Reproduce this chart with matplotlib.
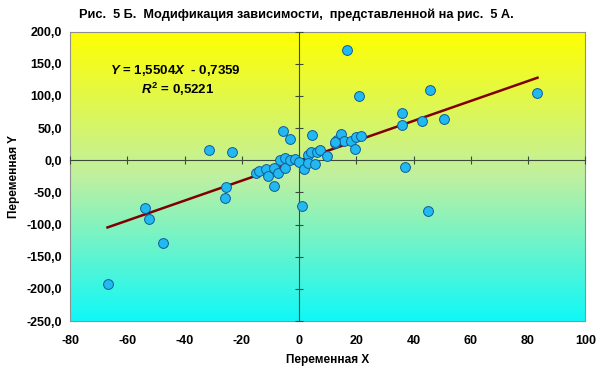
import numpy as np
import matplotlib
matplotlib.use("Agg")
import matplotlib.pyplot as plt
from matplotlib.colors import LinearSegmentedColormap

plt.rcParams['font.family'] = ['Liberation Sans', 'DejaVu Sans']
plt.rcParams['mathtext.fontset'] = 'custom'
plt.rcParams['mathtext.it'] = 'Liberation Sans:italic:bold'
plt.rcParams['mathtext.bf'] = 'Liberation Sans:bold'
plt.rcParams['mathtext.rm'] = 'Liberation Sans:bold'

title = "Рис.  5 Б.  Модификация зависимости,  представленной на рис.  5 А."
xlabel = "Переменная X"
ylabel = "Переменная Y"

x_vals = [-66.9, -53.8, -52.5, -47.6, -31.6, -23.3, -25.6, -25.9,
          16.8, 21.0, 45.7, 83.3, 35.8, 36.0, 43.0, 50.6, 37.0, 45.2, 0.9,
          -15.0, -13.9, -11.7, -10.9, -8.6, -8.6, -7.4, -6.5, -5.0, -5.0,
          -5.5, -3.2, -3.0, -1.3, -0.1, 1.6, 3.0, 3.0, 4.3, 4.6, 5.7, 6.3,
          7.5, 9.6, 12.5, 13.3, 14.8, 15.6, 18.0, 19.7, 20.0, 21.5, 12.7]
y_vals = [-192.4, -73.7, -90.8, -128.6, 16.5, 12.4, -42.0, -58.6,
          172.0, 100.5, 109.3, 104.2, 73.0, 54.4, 61.6, 63.7, -10.4, -79.4, -70.6,
          -19.3, -16.0, -14.0, -24.4, -12.5, -39.5, -19.3, 0.5, 4.0, -11.5,
          46.0, 32.7, 0.5, 1.5, -2.0, -13.5, 8.0, -3.7, 13.4, 38.9, -5.8, 13.4,
          16.0, 7.2, 27.4, 31.6, 40.4, 30.5, 30.5, 17.0, 35.8, 38.3, 28.5]

slope = 1.5504
intercept = -0.7359
r2 = 0.5221

x_ticks = [-80, -60, -40, -20, 0, 20, 40, 60, 80, 100]
y_ticks = [-250, -200, -150, -100, -50, 0, 50, 100, 150, 200]

fig = plt.figure(figsize=(6.0, 3.73), dpi=100)
rect = [70/600, 1-321/373, (585.3-70)/600, (321-31.7)/373]
ax = fig.add_axes(rect)
ax.set_xlim(-80, 100)
ax.set_ylim(-250, 200)

cmap = LinearSegmentedColormap.from_list("bg", [(0.0, "#10F8F8"), (0.5, "#C0F0A0"), (1.0, "#FFFF00")])
grad = np.linspace(0, 1, 256).reshape(-1, 1)
ax.imshow(grad, aspect='auto', cmap=cmap, origin='lower',
          extent=[-80, 100, -250, 200], zorder=0)

for s in ax.spines.values():
    s.set_color('#909090')
    s.set_linewidth(0.8)
ax.set_xticks(x_ticks)
ax.set_yticks(y_ticks)
ax.set_xticklabels([f"{v}" for v in x_ticks], fontsize=9, fontweight='bold')
ax.set_yticklabels([f"{v:.1f}".replace('.', ',') for v in y_ticks], fontsize=9, fontweight='bold')
ax.tick_params(axis='y', length=0, pad=6)
ax.tick_params(axis='x', length=0, pad=10)
ax.set_xlabel(xlabel, fontsize=8.5, fontweight='bold', labelpad=5)
ax.set_ylabel(ylabel, fontsize=8.5, fontweight='bold', labelpad=4)

# zero-crossing axes with tick marks
ax2 = fig.add_axes(rect, sharex=ax, sharey=ax)
ax2.patch.set_visible(False)
ax2.spines['left'].set_position(('data', 0))
ax2.spines['bottom'].set_position(('data', 0))
ax2.spines['right'].set_visible(False)
ax2.spines['top'].set_visible(False)
for k in ['left', 'bottom']:
    ax2.spines[k].set_color('#3C4A3C')
    ax2.spines[k].set_linewidth(0.8)
ax2.tick_params(direction='inout', length=6, width=0.8, color='#3C4A3C',
                labelleft=False, labelbottom=False)

xs = np.array([min(x_vals), max(x_vals)])
ax2.plot(xs, slope*xs + intercept, color='#800000', lw=1.8, zorder=3)
ax2.scatter(x_vals, y_vals, s=50, facecolor='#22B8F0', edgecolor='#105C9C',
            linewidth=0.7, zorder=4)

ax2.text(-43.3, 140, r"$\mathit{Y}$ = 1,5504$\mathit{X}$  - 0,7359",
         fontsize=9.5, fontweight='bold', ha='center', va='center')
ax2.text(-42.5, 111, r"$\mathit{R}^{\mathbf{2}}$ = 0,5221",
         fontsize=9.5, fontweight='bold', ha='center', va='center')

fig.text(296/600, 1-15/373, title, fontsize=9.2, fontweight='bold', ha='center', va='center')

fig.savefig("out.png", dpi=100)
